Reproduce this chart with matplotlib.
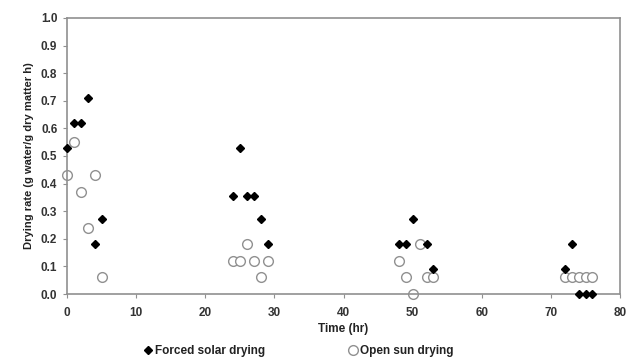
import matplotlib
matplotlib.use("Agg")
import matplotlib.pyplot as plt

plt.rcParams['font.family'] = ['Liberation Sans', 'DejaVu Sans']
plt.rcParams['font.weight'] = 'bold'

forced_t = [0, 1, 2, 3, 4, 5, 24, 25, 26, 27, 28, 29, 48, 49, 50, 52, 53, 72, 73, 74, 75, 76]
forced_r = [0.53, 0.62, 0.62, 0.71, 0.18, 0.27, 0.355, 0.53, 0.355, 0.355, 0.27, 0.18,
            0.18, 0.18, 0.27, 0.18, 0.09, 0.09, 0.18, 0.0, 0.0, 0.0]
open_t = [0, 1, 2, 3, 4, 5, 24, 25, 26, 27, 28, 29, 48, 49, 50, 51, 52, 53, 72, 73, 74, 75, 76]
open_r = [0.43, 0.55, 0.37, 0.24, 0.43, 0.06, 0.12, 0.12, 0.18, 0.12, 0.06, 0.12,
          0.12, 0.06, 0.0, 0.18, 0.06, 0.06, 0.06, 0.06, 0.06, 0.06, 0.06]

fig = plt.figure(figsize=(6.27, 3.59), dpi=100)
ax = fig.add_axes([0.107, 0.181, 0.882, 0.769])

ax.plot(forced_t, forced_r, linestyle='none', marker='D', markersize=4,
        color='black', label='Forced solar drying', clip_on=False, zorder=3)
ax.plot(open_t, open_r, linestyle='none', marker='o', markersize=7,
        markerfacecolor='white', markeredgecolor='#909090', markeredgewidth=1,
        label='Open sun drying', clip_on=False, zorder=2)

ax.set_xlim(0, 80)
ax.set_ylim(0, 1.0)
ax.set_xticks(range(0, 81, 10))
ax.set_yticks([i / 10 for i in range(11)])
ax.set_yticklabels([f"{i/10:.1f}" for i in range(11)])
for s in ax.spines.values():
    s.set_color('#909090')
    s.set_linewidth(1.2)
ax.tick_params(direction='out', length=3, color='#909090', labelsize=8.5)
ax.tick_params(axis='x', pad=6)
ax.tick_params(axis='y', pad=4)
for lbl in ax.get_xticklabels() + ax.get_yticklabels():
    lbl.set_fontweight('bold')
    lbl.set_color('#333333')

ax.set_xlabel('Time (hr)', fontsize=8.5, fontweight='bold', labelpad=3, color='#222222')
ax.set_ylabel('Drying rate (g water/g dry matter h)', fontsize=8, fontweight='bold',
              labelpad=5, color='#222222')

leg = fig.legend(loc='lower center', bbox_to_anchor=(0.475, 0.0), ncol=2, frameon=False,
                 fontsize=8.5, handletextpad=0.1, columnspacing=7, handlelength=1,
                 borderaxespad=0.1, borderpad=0.1)
for t in leg.get_texts():
    t.set_fontweight('bold')
    t.set_color('#222222')

fig.savefig('out.png', dpi=100)
